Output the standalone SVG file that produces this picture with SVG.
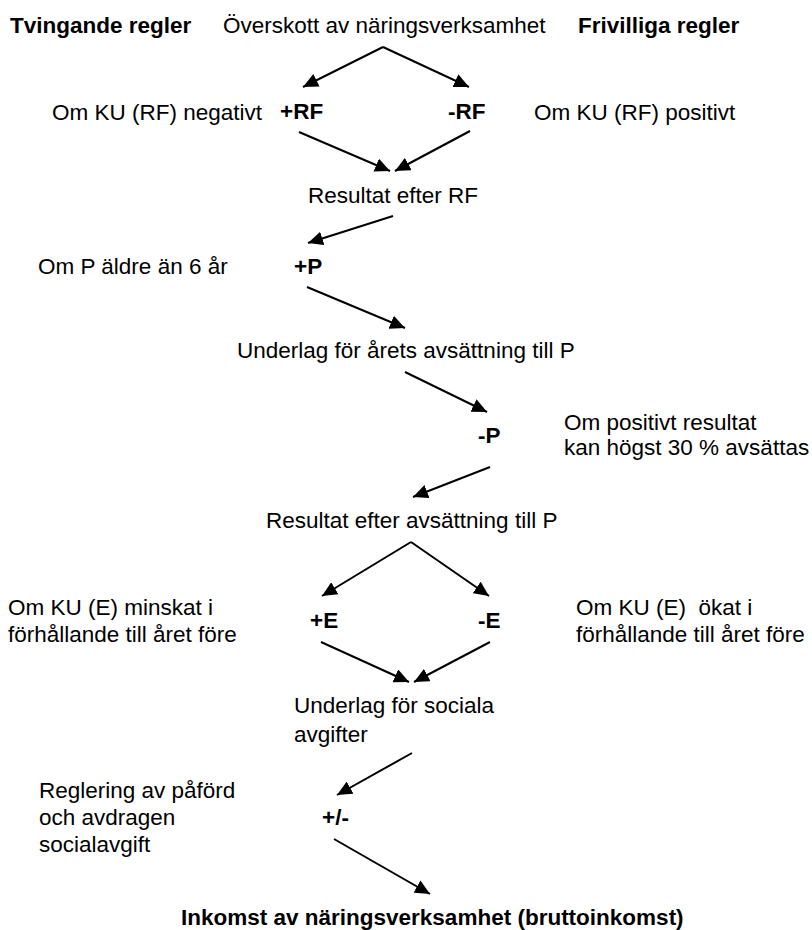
<svg xmlns="http://www.w3.org/2000/svg" width="812" height="930" viewBox="0 0 812 930">
  <style>
    text { font-family: "Liberation Sans", Arial, Helvetica, sans-serif; font-size: 22.5px; fill: #000; }
    .b { font-weight: bold; font-size: 22.5px; }
    .arrow { stroke: #000; stroke-width: 2; fill: none; marker-end: url(#head); }
  </style>
  <defs>
    <marker id="head" markerUnits="userSpaceOnUse" markerWidth="16" markerHeight="14" refX="15" refY="7" orient="auto">
      <path d="M0,0 L15,7 L0,14 z" fill="#000"/>
    </marker>
  </defs>
  <rect width="812" height="930" fill="#fff"/>

  <!-- column headings -->
  <g id="heading-tvingande"><text class="b" x="10" y="33">Tvingande regler</text></g>
  <g id="heading-frivilliga"><text class="b" x="578" y="33">Frivilliga regler</text></g>

  <!-- flow nodes -->
  <g id="overskott"><text x="223" y="33">Överskott av näringsverksamhet</text></g>

  <g id="rf-plus">
    <text x="52" y="120">Om KU (RF) negativt</text>
    <text class="b" x="280" y="119">+RF</text>
  </g>
  <g id="rf-minus">
    <text class="b" x="448" y="119">-RF</text>
    <text x="534" y="120">Om KU (RF) positivt</text>
  </g>

  <g id="resultat-rf"><text x="308" y="203">Resultat efter RF</text></g>

  <g id="p-plus">
    <text x="38" y="274">Om P äldre än 6 år</text>
    <text class="b" x="294" y="274">+P</text>
  </g>

  <g id="underlag-p"><text x="237" y="358">Underlag för årets avsättning till P</text></g>

  <g id="p-minus">
    <text class="b" x="478" y="443">-P</text>
    <text x="564" y="430">Om positivt resultat</text>
    <text x="564" y="455">kan högst 30 % avsättas</text>
  </g>

  <g id="resultat-p"><text x="266" y="528">Resultat efter avsättning till P</text></g>

  <g id="e-plus">
    <text x="8" y="615">Om KU (E) minskat i</text>
    <text x="8" y="642">förhållande till året före</text>
    <text class="b" x="310" y="628">+E</text>
  </g>
  <g id="e-minus">
    <text class="b" x="478" y="628">-E</text>
    <text x="576" y="615" xml:space="preserve">Om KU (E)  ökat i</text>
    <text x="576" y="642">förhållande till året före</text>
  </g>

  <g id="underlag-sociala">
    <text x="294" y="713">Underlag för sociala</text>
    <text x="294" y="742">avgifter</text>
  </g>

  <g id="reglering">
    <text x="39" y="798">Reglering av påförd</text>
    <text x="39" y="825">och avdragen</text>
    <text x="39" y="852">socialavgift</text>
    <text class="b" x="322" y="825">+/-</text>
  </g>

  <g id="inkomst"><text class="b" x="181" y="925">Inkomst av näringsverksamhet (bruttoinkomst)</text></g>

  <!-- connectors -->
  <g id="connectors">
    <line class="arrow" x1="383" y1="47" x2="303" y2="87"/>
    <line class="arrow" x1="383" y1="47" x2="469" y2="87"/>
    <line class="arrow" x1="299" y1="132" x2="390" y2="171"/>
    <line class="arrow" x1="470" y1="131" x2="395" y2="171"/>
    <line class="arrow" x1="393" y1="216" x2="308" y2="243"/>
    <line class="arrow" x1="307" y1="287" x2="405" y2="328"/>
    <line class="arrow" x1="405" y1="372" x2="487" y2="412"/>
    <line class="arrow" x1="490" y1="467" x2="413" y2="497"/>
    <line class="arrow" x1="411" y1="542" x2="322" y2="596"/>
    <line class="arrow" x1="411" y1="542" x2="489" y2="596"/>
    <line class="arrow" x1="321" y1="642" x2="409" y2="682"/>
    <line class="arrow" x1="490" y1="642" x2="414" y2="682"/>
    <line class="arrow" x1="412" y1="753" x2="337" y2="795"/>
    <line class="arrow" x1="334" y1="839" x2="430" y2="894"/>
  </g>
</svg>
